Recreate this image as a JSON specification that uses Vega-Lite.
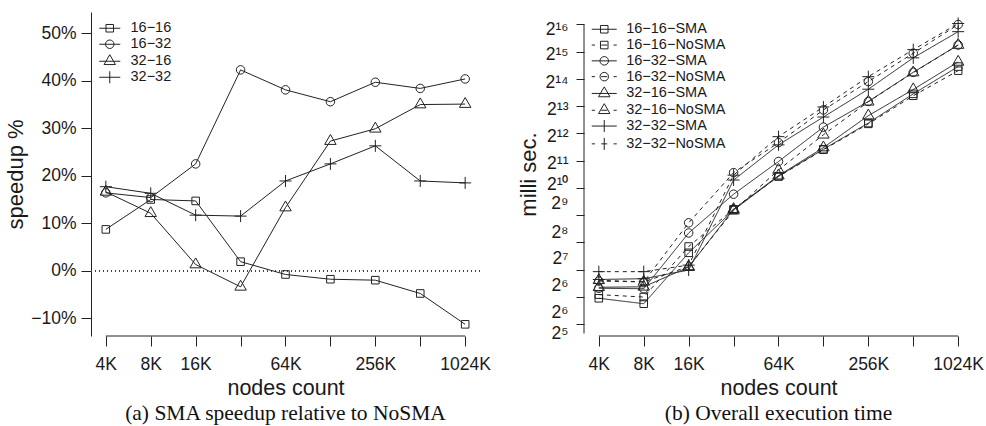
{
  "$schema": "https://vega.github.io/schema/vega-lite/v6.json",
  "background": "white",
  "padding": {"left": 4, "top": 12, "right": 4, "bottom": 0},
  "bounds": "flush",
  "spacing": 104,
  "datasets": {
    "left": [
      {"n": 4, "v": 8.7, "cfg": "16-16"}, {"n": 8, "v": 15.0, "cfg": "16-16"}, {"n": 16, "v": 14.7, "cfg": "16-16"}, {"n": 32, "v": 1.9, "cfg": "16-16"}, {"n": 64, "v": -0.8, "cfg": "16-16"}, {"n": 128, "v": -1.8, "cfg": "16-16"}, {"n": 256, "v": -2.0, "cfg": "16-16"}, {"n": 512, "v": -4.8, "cfg": "16-16"}, {"n": 1024, "v": -11.3, "cfg": "16-16"},
      {"n": 4, "v": 16.4, "cfg": "16-32"}, {"n": 8, "v": 15.4, "cfg": "16-32"}, {"n": 16, "v": 22.5, "cfg": "16-32"}, {"n": 32, "v": 42.3, "cfg": "16-32"}, {"n": 64, "v": 38.1, "cfg": "16-32"}, {"n": 128, "v": 35.6, "cfg": "16-32"}, {"n": 256, "v": 39.7, "cfg": "16-32"}, {"n": 512, "v": 38.4, "cfg": "16-32"}, {"n": 1024, "v": 40.4, "cfg": "16-32"},
      {"n": 4, "v": 16.6, "cfg": "32-16"}, {"n": 8, "v": 12.1, "cfg": "32-16"}, {"n": 16, "v": 1.3, "cfg": "32-16"}, {"n": 32, "v": -3.4, "cfg": "32-16"}, {"n": 64, "v": 13.3, "cfg": "32-16"}, {"n": 128, "v": 27.3, "cfg": "32-16"}, {"n": 256, "v": 29.9, "cfg": "32-16"}, {"n": 512, "v": 35.0, "cfg": "32-16"}, {"n": 1024, "v": 35.1, "cfg": "32-16"},
      {"n": 4, "v": 17.7, "cfg": "32-32"}, {"n": 8, "v": 16.3, "cfg": "32-32"}, {"n": 16, "v": 11.7, "cfg": "32-32"}, {"n": 32, "v": 11.5, "cfg": "32-32"}, {"n": 64, "v": 18.9, "cfg": "32-32"}, {"n": 128, "v": 22.5, "cfg": "32-32"}, {"n": 256, "v": 26.3, "cfg": "32-32"}, {"n": 512, "v": 18.9, "cfg": "32-32"}, {"n": 1024, "v": 18.5, "cfg": "32-32"}
    ],
    "right": [
      {"n": 4, "t": 62, "cfg": "16-16", "type": "SMA", "series": "16-16-SMA"}, {"n": 8, "t": 54, "cfg": "16-16", "type": "SMA", "series": "16-16-SMA"}, {"n": 16, "t": 197, "cfg": "16-16", "type": "SMA", "series": "16-16-SMA"}, {"n": 32, "t": 584, "cfg": "16-16", "type": "SMA", "series": "16-16-SMA"}, {"n": 64, "t": 1380, "cfg": "16-16", "type": "SMA", "series": "16-16-SMA"}, {"n": 128, "t": 2741, "cfg": "16-16", "type": "SMA", "series": "16-16-SMA"}, {"n": 256, "t": 5330, "cfg": "16-16", "type": "SMA", "series": "16-16-SMA"}, {"n": 512, "t": 11190, "cfg": "16-16", "type": "SMA", "series": "16-16-SMA"}, {"n": 1024, "t": 22378, "cfg": "16-16", "type": "SMA", "series": "16-16-SMA"},
      {"n": 4, "t": 68, "cfg": "16-16", "type": "NoSMA", "series": "16-16-NoSMA"}, {"n": 8, "t": 64, "cfg": "16-16", "type": "NoSMA", "series": "16-16-NoSMA"}, {"n": 16, "t": 231, "cfg": "16-16", "type": "NoSMA", "series": "16-16-NoSMA"}, {"n": 32, "t": 596, "cfg": "16-16", "type": "NoSMA", "series": "16-16-NoSMA"}, {"n": 64, "t": 1370, "cfg": "16-16", "type": "NoSMA", "series": "16-16-NoSMA"}, {"n": 128, "t": 2703, "cfg": "16-16", "type": "NoSMA", "series": "16-16-NoSMA"}, {"n": 256, "t": 5219, "cfg": "16-16", "type": "NoSMA", "series": "16-16-NoSMA"}, {"n": 512, "t": 10660, "cfg": "16-16", "type": "NoSMA", "series": "16-16-NoSMA"}, {"n": 1024, "t": 20170, "cfg": "16-16", "type": "NoSMA", "series": "16-16-NoSMA"},
      {"n": 4, "t": 80, "cfg": "16-32", "type": "SMA", "series": "16-32-SMA"}, {"n": 8, "t": 79, "cfg": "16-32", "type": "SMA", "series": "16-32-SMA"}, {"n": 16, "t": 326, "cfg": "16-32", "type": "SMA", "series": "16-32-SMA"}, {"n": 32, "t": 873, "cfg": "16-32", "type": "SMA", "series": "16-32-SMA"}, {"n": 64, "t": 2006, "cfg": "16-32", "type": "SMA", "series": "16-32-SMA"}, {"n": 128, "t": 4806, "cfg": "16-32", "type": "SMA", "series": "16-32-SMA"}, {"n": 256, "t": 9216, "cfg": "16-32", "type": "SMA", "series": "16-32-SMA"}, {"n": 512, "t": 19350, "cfg": "16-32", "type": "SMA", "series": "16-32-SMA"}, {"n": 1024, "t": 38702, "cfg": "16-32", "type": "SMA", "series": "16-32-SMA"},
      {"n": 4, "t": 96, "cfg": "16-32", "type": "NoSMA", "series": "16-32-NoSMA"}, {"n": 8, "t": 94, "cfg": "16-32", "type": "NoSMA", "series": "16-32-NoSMA"}, {"n": 16, "t": 422, "cfg": "16-32", "type": "NoSMA", "series": "16-32-NoSMA"}, {"n": 32, "t": 1510, "cfg": "16-32", "type": "NoSMA", "series": "16-32-NoSMA"}, {"n": 64, "t": 3236, "cfg": "16-32", "type": "NoSMA", "series": "16-32-NoSMA"}, {"n": 128, "t": 7435, "cfg": "16-32", "type": "NoSMA", "series": "16-32-NoSMA"}, {"n": 256, "t": 15287, "cfg": "16-32", "type": "NoSMA", "series": "16-32-NoSMA"}, {"n": 512, "t": 31427, "cfg": "16-32", "type": "NoSMA", "series": "16-32-NoSMA"}, {"n": 1024, "t": 65083, "cfg": "16-32", "type": "NoSMA", "series": "16-32-NoSMA"},
      {"n": 4, "t": 82, "cfg": "32-16", "type": "SMA", "series": "32-16-SMA"}, {"n": 8, "t": 83, "cfg": "32-16", "type": "SMA", "series": "32-16-SMA"}, {"n": 16, "t": 137, "cfg": "32-16", "type": "SMA", "series": "32-16-SMA"}, {"n": 32, "t": 596, "cfg": "32-16", "type": "SMA", "series": "32-16-SMA"}, {"n": 64, "t": 1399, "cfg": "32-16", "type": "SMA", "series": "32-16-SMA"}, {"n": 128, "t": 2857, "cfg": "32-16", "type": "SMA", "series": "32-16-SMA"}, {"n": 256, "t": 6428, "cfg": "32-16", "type": "SMA", "series": "32-16-SMA"}, {"n": 512, "t": 12503, "cfg": "32-16", "type": "SMA", "series": "32-16-SMA"}, {"n": 1024, "t": 25183, "cfg": "32-16", "type": "SMA", "series": "32-16-SMA"},
      {"n": 4, "t": 98, "cfg": "32-16", "type": "NoSMA", "series": "32-16-NoSMA"}, {"n": 8, "t": 94, "cfg": "32-16", "type": "NoSMA", "series": "32-16-NoSMA"}, {"n": 16, "t": 139, "cfg": "32-16", "type": "NoSMA", "series": "32-16-NoSMA"}, {"n": 32, "t": 576, "cfg": "32-16", "type": "NoSMA", "series": "32-16-NoSMA"}, {"n": 64, "t": 1618, "cfg": "32-16", "type": "NoSMA", "series": "32-16-NoSMA"}, {"n": 128, "t": 3956, "cfg": "32-16", "type": "NoSMA", "series": "32-16-NoSMA"}, {"n": 256, "t": 9152, "cfg": "32-16", "type": "NoSMA", "series": "32-16-NoSMA"}, {"n": 512, "t": 19223, "cfg": "32-16", "type": "NoSMA", "series": "32-16-NoSMA"}, {"n": 1024, "t": 38702, "cfg": "32-16", "type": "NoSMA", "series": "32-16-NoSMA"},
      {"n": 4, "t": 100, "cfg": "32-32", "type": "SMA", "series": "32-32-SMA"}, {"n": 8, "t": 102, "cfg": "32-32", "type": "SMA", "series": "32-32-SMA"}, {"n": 16, "t": 127, "cfg": "32-32", "type": "SMA", "series": "32-32-SMA"}, {"n": 32, "t": 1252, "cfg": "32-32", "type": "SMA", "series": "32-32-SMA"}, {"n": 64, "t": 3061, "cfg": "32-32", "type": "SMA", "series": "32-32-SMA"}, {"n": 128, "t": 6208, "cfg": "32-32", "type": "SMA", "series": "32-32-SMA"}, {"n": 256, "t": 12590, "cfg": "32-32", "type": "SMA", "series": "32-32-SMA"}, {"n": 512, "t": 27936, "cfg": "32-32", "type": "SMA", "series": "32-32-SMA"}, {"n": 1024, "t": 54350, "cfg": "32-32", "type": "SMA", "series": "32-32-SMA"},
      {"n": 4, "t": 122, "cfg": "32-32", "type": "NoSMA", "series": "32-32-NoSMA"}, {"n": 8, "t": 122, "cfg": "32-32", "type": "NoSMA", "series": "32-32-NoSMA"}, {"n": 16, "t": 144, "cfg": "32-32", "type": "NoSMA", "series": "32-32-NoSMA"}, {"n": 32, "t": 1418, "cfg": "32-32", "type": "NoSMA", "series": "32-32-NoSMA"}, {"n": 64, "t": 3769, "cfg": "32-32", "type": "NoSMA", "series": "32-32-NoSMA"}, {"n": 128, "t": 8023, "cfg": "32-32", "type": "NoSMA", "series": "32-32-NoSMA"}, {"n": 256, "t": 17318, "cfg": "32-32", "type": "NoSMA", "series": "32-32-NoSMA"}, {"n": 512, "t": 34406, "cfg": "32-32", "type": "NoSMA", "series": "32-32-NoSMA"}, {"n": 1024, "t": 66912, "cfg": "32-32", "type": "NoSMA", "series": "32-32-NoSMA"}
    ]
  },
  "hconcat": [
    {
      "width": 389,
      "height": 324,
      "data": {"name": "left"},
      "title": {"text": "(a) SMA speedup relative to NoSMA", "orient": "bottom", "anchor": "middle", "font": "Liberation Serif", "fontSize": 21.5, "fontWeight": "normal", "color": "#111", "offset": 4},
      "layer": [
        {
          "mark": {"type": "rule", "strokeDash": [1, 3], "color": "#444", "strokeWidth": 1},
          "encoding": {"y": {"datum": 0, "type": "quantitative", "scale": {"domain": [-13.76, 54.5], "nice": false, "zero": false}}}
        },
        {
          "data": {"values": [{"a": 4, "b": 1024}]},
          "mark": {"type": "rule", "color": "#222", "strokeWidth": 1},
          "encoding": {
            "x": {"field": "a", "type": "quantitative", "scale": {"type": "log", "base": 2, "domain": [3.182, 1287.3], "nice": false}},
            "x2": {"field": "b"},
            "y": {"datum": -13.76, "type": "quantitative", "scale": {"domain": [-13.76, 54.5], "nice": false, "zero": false}}
          }
        },
        {
          "mark": {"type": "line", "color": "#222", "strokeWidth": 1},
          "encoding": {
            "x": {"field": "n", "type": "quantitative", "scale": {"type": "log", "base": 2, "domain": [3.182, 1287.3], "nice": false},
              "axis": {"values": [4, 8, 16, 32, 64, 128, 256, 512, 1024], "labelExpr": "indexof([32,128,512], datum.value) >= 0 ? '' : datum.value + 'K'", "title": "nodes count", "domain": false, "tickSize": 10, "labelPadding": 9, "titlePadding": 5}},
            "y": {"field": "v", "type": "quantitative", "scale": {"domain": [-13.76, 54.5], "nice": false, "zero": false},
              "axis": {"values": [-10, 0, 10, 20, 30, 40, 50], "labelExpr": "replace(format(datum.value, 'd'), '-', '−') + '%'", "title": "speedup %", "titleFontSize": 22, "tickSize": 10, "labelPadding": 5, "titlePadding": 3}},
            "detail": {"field": "cfg"}
          }
        },
        {
          "mark": {"type": "point", "filled": false, "size": 144, "color": "#222", "strokeWidth": 1, "opacity": 1},
          "encoding": {
            "x": {"field": "n", "type": "quantitative", "scale": {"type": "log", "base": 2, "domain": [3.182, 1287.3], "nice": false}},
            "y": {"field": "v", "type": "quantitative", "scale": {"domain": [-13.76, 54.5], "nice": false, "zero": false}},
            "shape": {"field": "cfg", "type": "nominal", "legend": null,
              "scale": {"domain": ["16-16", "16-32", "32-16", "32-32"],
                "range": ["M-0.63,-0.63H0.63V0.63H-0.63Z", "M-0.71,0A0.71,0.71,0,1,0,0.71,0A0.71,0.71,0,1,0,-0.71,0Z", "M0,-1.1L0.95,0.55H-0.95Z", "M-1,0H1M0,-1V1"]}}
          }
        },
        {
          "transform": [{"filter": "false"}],
          "mark": {"type": "point", "filled": false, "size": 144, "color": "#222", "strokeWidth": 1, "opacity": 1},
          "encoding": {
            "shape": {"field": "cfg", "type": "nominal",
              "scale": {"domain": ["16-16", "16-32", "32-16", "32-32"],
                "range": ["M-1.75,0H1.75M-0.63,-0.63H0.63V0.63H-0.63Z", "M-1.75,0H1.75M-0.71,0A0.71,0.71,0,1,0,0.71,0A0.71,0.71,0,1,0,-0.71,0Z", "M-1.75,0H1.75M0,-1.1L0.95,0.55H-0.95Z", "M-1.75,0H1.75M0,-1V1"]},
              "legend": {"orient": "none", "legendX": 11.5, "legendY": 9, "title": null, "padding": 0, "symbolSize": 144, "symbolStrokeWidth": 1, "symbolStrokeColor": "#222", "symbolFillColor": "transparent", "symbolOpacity": 1, "labelFont": "Liberation Sans", "labelFontSize": 14.5, "labelColor": "#1a1a1a", "labelOffset": 13.5, "rowPadding": 1, "labelExpr": "replace(datum.label, regexp('-', 'g'), '−')"}}
          }
        }
      ],
      "resolve": {"scale": {"shape": "independent"}}
    },
    {
      "width": 389,
      "height": 324,
      "data": {"name": "right"},
      "title": {"text": "(b) Overall execution time", "orient": "bottom", "anchor": "middle", "font": "Liberation Serif", "fontSize": 21.5, "fontWeight": "normal", "color": "#111", "offset": 4},
      "layer": [
        {
          "data": {"values": [{"a": 4, "b": 1024}]},
          "mark": {"type": "rule", "color": "#222", "strokeWidth": 1},
          "encoding": {
            "x": {"field": "a", "type": "quantitative", "scale": {"type": "log", "base": 2, "domain": [3.182, 1287.3], "nice": false}},
            "x2": {"field": "b"},
            "y": {"datum": 23.77, "type": "quantitative", "scale": {"type": "log", "base": 2, "domain": [23.77, 89590], "nice": false}}
          }
        },
        {
          "data": {"values": [{"lo": 25.3, "hi": 65536}]},
          "mark": {"type": "rule", "color": "#222", "strokeWidth": 1},
          "encoding": {
            "x": {"datum": 3.182, "type": "quantitative", "scale": {"type": "log", "base": 2, "domain": [3.182, 1287.3], "nice": false}},
            "y": {"field": "lo", "type": "quantitative", "scale": {"type": "log", "base": 2, "domain": [23.77, 89590], "nice": false}},
            "y2": {"field": "hi"}
          }
        },
        {
          "mark": {"type": "line", "color": "#222", "strokeWidth": 1},
          "encoding": {
            "x": {"field": "n", "type": "quantitative", "scale": {"type": "log", "base": 2, "domain": [3.182, 1287.3], "nice": false},
              "axis": {"values": [4, 8, 16, 32, 64, 128, 256, 512, 1024], "labelExpr": "indexof([32,128,512], datum.value) >= 0 ? '' : datum.value + 'K'", "title": "nodes count", "domain": false, "tickSize": 10, "labelPadding": 9, "titlePadding": 5}},
            "y": {"field": "t", "type": "quantitative", "scale": {"type": "log", "base": 2, "domain": [23.77, 89590], "nice": false},
              "axis": {
                "values": [32, 64, 128, 256, 512, 1024, 2048, 4096, 8192, 16384, 32768, 65536, 27.3, 46.8, 92.4, 183.6, 357, 744.4, 1221, 2034, 4068, 16271, 33227, 61995],
                "labelExpr": "indexof([27.3,46.8,92.4,183.6,357,744.4,1221,2034,4068,8192,16271,33227,61995], datum.value) >= 0 ? ['2⁵','2⁶','2⁶','2⁷','2⁸','2⁹','2¹⁰','2¹¹','2¹²','2¹³','2¹⁴','2¹⁵','2¹⁶'][indexof([27.3,46.8,92.4,183.6,357,744.4,1221,2034,4068,8192,16271,33227,61995], datum.value)] : ''",
                "tickOpacity": {"condition": {"test": "indexof([32,64,128,256,512,1024,2048,4096,8192,16384,32768,65536], datum.value) >= 0", "value": 1}, "value": 0},
                "tickSize": 8, "labelPadding": 8, "labelOffset": 3, "domain": false, "title": "milli sec.", "titleFontSize": 22, "titlePadding": 4}},
            "detail": {"field": "series"},
            "strokeDash": {"field": "type", "type": "nominal", "scale": {"domain": ["SMA", "NoSMA"], "range": [[1, 0], [4, 4]]}, "legend": null}
          }
        },
        {
          "mark": {"type": "point", "filled": false, "size": 144, "color": "#222", "strokeWidth": 1, "opacity": 1},
          "encoding": {
            "x": {"field": "n", "type": "quantitative", "scale": {"type": "log", "base": 2, "domain": [3.182, 1287.3], "nice": false}},
            "y": {"field": "t", "type": "quantitative", "scale": {"type": "log", "base": 2, "domain": [23.77, 89590], "nice": false}},
            "shape": {"field": "cfg", "type": "nominal", "legend": null,
              "scale": {"domain": ["16-16", "16-32", "32-16", "32-32"],
                "range": ["M-0.63,-0.63H0.63V0.63H-0.63Z", "M-0.71,0A0.71,0.71,0,1,0,0.71,0A0.71,0.71,0,1,0,-0.71,0Z", "M0,-1.1L0.95,0.55H-0.95Z", "M-1,0H1M0,-1V1"]}}
          }
        },
        {
          "transform": [{"filter": "false"}],
          "mark": {"type": "point", "filled": false, "size": 144, "color": "#222", "strokeWidth": 1, "opacity": 1},
          "encoding": {
            "shape": {"field": "series", "type": "nominal",
              "scale": {"domain": ["16-16-SMA", "16-16-NoSMA", "16-32-SMA", "16-32-NoSMA", "32-16-SMA", "32-16-NoSMA", "32-32-SMA", "32-32-NoSMA"],
                "range": [
                  "M-2.08,0H2.08M-0.63,-0.63H0.63V0.63H-0.63Z",
                  "M-2.08,0H-1.55M-0.5,0H0.5M1.55,0H2.08M-0.63,-0.63H0.63V0.63H-0.63Z",
                  "M-2.08,0H2.08M-0.71,0A0.71,0.71,0,1,0,0.71,0A0.71,0.71,0,1,0,-0.71,0Z",
                  "M-2.08,0H-1.55M-0.5,0H0.5M1.55,0H2.08M-0.71,0A0.71,0.71,0,1,0,0.71,0A0.71,0.71,0,1,0,-0.71,0Z",
                  "M-2.08,0H2.08M0,-1.1L0.95,0.55H-0.95Z",
                  "M-2.08,0H-1.55M-0.5,0H0.5M1.55,0H2.08M0,-1.1L0.95,0.55H-0.95Z",
                  "M-2.08,0H2.08M0,-1V1",
                  "M-2.08,0H-1.55M-0.5,0H0.5M1.55,0H2.08M0,-1V1"
                ]},
              "legend": {"orient": "none", "legendX": 13, "legendY": 10, "title": null, "padding": 0, "symbolSize": 144, "symbolStrokeWidth": 1, "symbolStrokeColor": "#222", "symbolFillColor": "transparent", "symbolOpacity": 1, "labelFont": "Liberation Sans", "labelFontSize": 14.5, "labelColor": "#1a1a1a", "labelOffset": 14.7, "rowPadding": 0.8, "labelExpr": "replace(datum.label, regexp('-', 'g'), '−')"}}
          }
        }
      ],
      "resolve": {"scale": {"shape": "independent"}}
    }
  ],
  "config": {
    "view": {"stroke": null},
    "font": "Liberation Sans",
    "axis": {
      "grid": false,
      "labelFont": "Liberation Sans",
      "labelFontSize": 17.5,
      "labelColor": "#1a1a1a",
      "labelOverlap": false,
      "labelFlush": false,
      "tickColor": "#222",
      "tickWidth": 1,
      "domainColor": "#222",
      "domainWidth": 1,
      "titleFont": "Liberation Sans",
      "titleFontSize": 21.5,
      "titleFontWeight": "normal",
      "titleColor": "#1a1a1a"
    }
  }
}
